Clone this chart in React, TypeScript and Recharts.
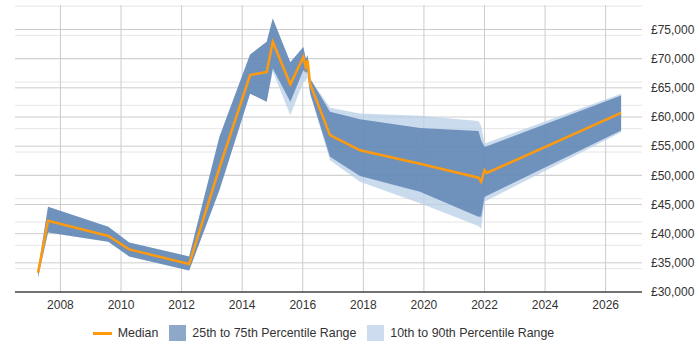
import React from "react"
import {
  ComposedChart,
  Area,
  Line,
  XAxis,
  YAxis,
  CartesianGrid
} from "recharts"

// salary history points (fractional year)
const years = [
  2007.26, 2007.59, 2009.58, 2010.27, 2012.25, 2013.25, 2014.26, 2014.81,
  2015.01, 2015.59, 2016.02, 2016.1, 2016.16, 2016.24, 2016.9, 2017.89,
  2019.87, 2021.8, 2021.89, 2022.0, 2022.08, 2026.51
]
const median = [
  33300, 42200, 39600, 37300, 34800, 51300, 67200, 67700,
  72900, 65600, 70300, 68600, 69700, 65700, 56900, 54300,
  52000, 49600, 48900, 50900, 50400, 60700
]
const p25 = [
  32500, 40200, 38600, 36100, 33700, 47500, 64000, 62600,
  68300, 62600, 68000, 67600, 67800, 64100, 53200, 49900,
  47200, 42900, 42900, 46300, 46500, 57700
]
const p75 = [
  33800, 44600, 41200, 38500, 36100, 56600, 70700, 72900,
  76900, 69400, 72000, 70000, 70600, 66600, 60900, 59600,
  58100, 57600, 56000, 54900, 55000, 63700
]
const p10 = [
  32500, 40200, 38600, 36100, 33700, 47500, 64000, 62600,
  67800, 60300, 66000, 66200, 66800, 64000, 52600, 48900,
  45200, 41300, 40900, 45500, 45700, 57400
]
const p90 = [
  33800, 44600, 41200, 38500, 36100, 56600, 70700, 72900,
  76900, 69400, 72000, 70000, 70600, 66600, 61600, 60600,
  60200, 59300, 58500, 55500, 55600, 64000
]

const yearTicks = [2008, 2010, 2012, 2014, 2016, 2018, 2020, 2022, 2024, 2026]
const salaryTicks = [30000, 35000, 40000, 45000, 50000, 55000, 60000, 65000, 70000, 75000]
const minorTicks: number[] = []
for (let v = 31000; v <= 79000; v += 1000) minorTicks.push(v)

const COLORS = {
  median: "#ff9a0e",
  iqr: "#507aab",
  decile: "#b8cfe8",
  gridMajor: "#cccccc",
  gridMinor: "#e6e6e6",
  text: "#333"
}

const FONT = "'Liberation Sans', Arial, sans-serif"

const data = years.map((year, i) => ({
  year,
  median: median[i],
  iqr: [p25[i], p75[i]],
  decile: [p10[i], p90[i]]
}))

const gbp = (v: number) => "£" + v.toLocaleString("en-GB")

function LegendBar() {
  const item = { display: "flex", alignItems: "center", marginRight: 11 }
  const label = { marginLeft: 6 }
  return (
    <div
      style={{
        position: "absolute",
        left: 0,
        top: 325,
        width: 658,
        display: "flex",
        justifyContent: "center",
        fontFamily: FONT,
        fontSize: 12.4,
        color: COLORS.text
      }}
    >
      <div style={item}>
        <div style={{ width: 19, height: 3, background: COLORS.median }} />
        <span style={label}>Median</span>
      </div>
      <div style={item}>
        <div style={{ width: 17, height: 16, background: COLORS.iqr, opacity: 0.65 }} />
        <span style={label}>25th to 75th Percentile Range</span>
      </div>
      <div style={item}>
        <div style={{ width: 17, height: 16, background: COLORS.decile, opacity: 0.7 }} />
        <span style={label}>10th to 90th Percentile Range</span>
      </div>
    </div>
  )
}

export default function App() {
  return (
    <div style={{ position: "absolute", left: 0, top: 0, width: 700, height: 350 }}>
      <ComposedChart
        width={700}
        height={350}
        data={data}
        margin={{ top: 5, right: 0, left: 15, bottom: 34 }}
      >
        {/* light lines every £1,000, darker ones at the labelled ticks */}
        <CartesianGrid
          vertical={false}
          horizontalValues={minorTicks}
          stroke={COLORS.gridMinor}
        />
        <CartesianGrid
          horizontalValues={salaryTicks}
          verticalValues={yearTicks}
          stroke={COLORS.gridMajor}
        />

        <XAxis
          dataKey="year"
          type="number"
          domain={[2006.5, 2027.2]}
          ticks={yearTicks}
          allowDataOverflow
          height={24}
          tickLine={false}
          tickSize={0}
          tickMargin={8}
          axisLine={{ stroke: "#000", strokeWidth: 1.2 }}
          tick={{ fill: COLORS.text, fontSize: 12, fontFamily: FONT }}
        />
        <YAxis
          orientation="right"
          domain={[30000, 79200]}
          ticks={salaryTicks}
          allowDataOverflow
          width={58}
          axisLine={false}
          tickLine={false}
          tickSize={0}
          tickMargin={9}
          tickFormatter={gbp}
          tick={{ fill: COLORS.text, fontSize: 12, fontFamily: FONT, textAnchor: "start" }}
        />

        <Area
          type="linear"
          dataKey="decile"
          stroke="none"
          fill={COLORS.decile}
          fillOpacity={0.75}
          isAnimationActive={false}
        />
        <Area
          type="linear"
          dataKey="iqr"
          stroke="none"
          fill={COLORS.iqr}
          fillOpacity={0.75}
          isAnimationActive={false}
        />
        <Line
          type="linear"
          dataKey="median"
          stroke={COLORS.median}
          strokeWidth={2.5}
          dot={false}
          isAnimationActive={false}
        />
      </ComposedChart>
      <LegendBar />
    </div>
  )
}
